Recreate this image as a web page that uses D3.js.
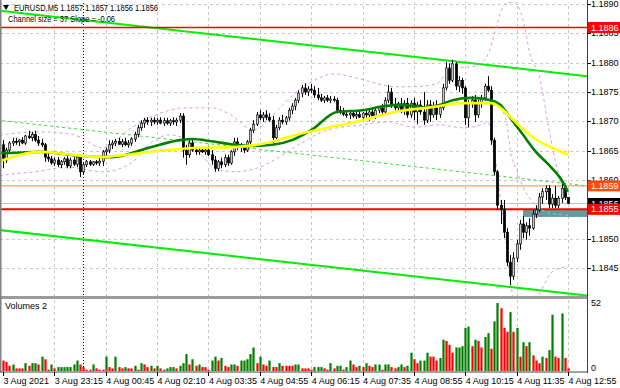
<!DOCTYPE html>
<html>
<head>
<meta charset="utf-8">
<script src="https://cdn.jsdelivr.net/npm/d3@7"></script>
<style>
body { margin: 0; background: #fff; }
svg { display: block; font-family: "Liberation Sans", Arial, sans-serif; }
</style>
</head>
<body>
<svg id="chart" width="620" height="388"></svg>
<script>
// EURUSD M5, one value per bar (177 bars)
const opens = [
  1.18660,1.18634,1.18651,1.18663,1.18666,1.18665,1.18668,1.18663,1.18675,1.18672,
  1.18678,1.18668,1.18663,1.18660,1.18639,1.18636,1.18629,1.18634,1.18626,1.18631,
  1.18636,1.18624,1.18634,1.18627,1.18639,1.18614,1.18626,1.18631,1.18627,1.18631,
  1.18629,1.18632,1.18648,1.18651,1.18660,1.18663,1.18666,1.18661,1.18665,1.18660,
  1.18663,1.18670,1.18678,1.18689,1.18697,1.18702,1.18699,1.18702,1.18699,1.18702,
  1.18697,1.18701,1.18697,1.18701,1.18699,1.18702,1.18709,1.18651,1.18643,1.18663,
  1.18651,1.18648,1.18651,1.18648,1.18651,1.18643,1.18634,1.18620,1.18631,1.18626,
  1.18638,1.18629,1.18648,1.18665,1.18658,1.18655,1.18651,1.18665,1.18685,1.18695,
  1.18711,1.18706,1.18711,1.18707,1.18702,1.18672,1.18689,1.18702,1.18699,1.18706,
  1.18719,1.18726,1.18736,1.18748,1.18757,1.18750,1.18755,1.18753,1.18745,1.18740,
  1.18736,1.18740,1.18736,1.18738,1.18736,1.18719,1.18716,1.18712,1.18711,1.18714,
  1.18709,1.18712,1.18707,1.18714,1.18711,1.18716,1.18709,1.18719,1.18723,1.18716,
  1.18736,1.18750,1.18728,1.18723,1.18730,1.18719,1.18731,1.18711,1.18731,1.18716,
  1.18728,1.18716,1.18702,1.18728,1.18711,1.18723,1.18712,1.18723,1.18757,1.18791,
  1.18770,1.18798,1.18760,1.18770,1.18757,1.18706,1.18730,1.18736,1.18711,1.18730,
  1.18740,1.18760,1.18753,1.18668,1.18614,1.18557,1.18549,1.18511,1.18460,1.18436,
  1.18467,1.18491,1.18525,1.18511,1.18522,1.18518,1.18542,1.18549,1.18571,1.18580,
  1.18586,1.18559,1.18569,1.18557,1.18569,1.18586,1.18570
];
const highs = [
  1.18668,1.18655,1.18666,1.18672,1.18672,1.18670,1.18673,1.18677,1.18684,1.18682,
  1.18684,1.18675,1.18670,1.18663,1.18648,1.18641,1.18638,1.18639,1.18634,1.18639,
  1.18641,1.18638,1.18639,1.18643,1.18643,1.18629,1.18634,1.18634,1.18632,1.18634,
  1.18638,1.18651,1.18655,1.18668,1.18668,1.18670,1.18672,1.18670,1.18672,1.18668,
  1.18673,1.18682,1.18694,1.18702,1.18706,1.18707,1.18706,1.18707,1.18706,1.18707,
  1.18706,1.18706,1.18704,1.18707,1.18706,1.18714,1.18714,1.18660,1.18668,1.18668,
  1.18656,1.18655,1.18656,1.18655,1.18658,1.18651,1.18641,1.18634,1.18638,1.18643,
  1.18643,1.18651,1.18672,1.18672,1.18663,1.18660,1.18668,1.18689,1.18702,1.18716,
  1.18719,1.18716,1.18719,1.18714,1.18709,1.18694,1.18707,1.18711,1.18709,1.18723,
  1.18731,1.18740,1.18753,1.18762,1.18765,1.18760,1.18764,1.18760,1.18757,1.18747,
  1.18743,1.18745,1.18743,1.18743,1.18740,1.18726,1.18723,1.18719,1.18718,1.18719,
  1.18716,1.18718,1.18716,1.18721,1.18721,1.18723,1.18723,1.18726,1.18730,1.18741,
  1.18762,1.18757,1.18740,1.18733,1.18740,1.18736,1.18740,1.18736,1.18740,1.18733,
  1.18736,1.18750,1.18736,1.18736,1.18733,1.18736,1.18728,1.18764,1.18801,1.18799,
  1.18805,1.18801,1.18777,1.18774,1.18760,1.18736,1.18743,1.18745,1.18736,1.18745,
  1.18764,1.18777,1.18760,1.18672,1.18617,1.18566,1.18566,1.18518,1.18472,1.18477,
  1.18498,1.18532,1.18539,1.18528,1.18535,1.18549,1.18557,1.18578,1.18586,1.18591,
  1.18591,1.18576,1.18590,1.18573,1.18595,1.18590,1.18570
];
const lows = [
  1.18620,1.18629,1.18646,1.18658,1.18660,1.18658,1.18661,1.18660,1.18670,1.18666,
  1.18665,1.18658,1.18656,1.18631,1.18631,1.18626,1.18624,1.18622,1.18620,1.18626,
  1.18620,1.18620,1.18624,1.18622,1.18605,1.18610,1.18622,1.18624,1.18624,1.18626,
  1.18624,1.18624,1.18638,1.18646,1.18653,1.18658,1.18660,1.18656,1.18658,1.18655,
  1.18658,1.18665,1.18673,1.18684,1.18689,1.18694,1.18692,1.18695,1.18694,1.18695,
  1.18692,1.18694,1.18692,1.18694,1.18692,1.18697,1.18638,1.18626,1.18638,1.18648,
  1.18643,1.18643,1.18646,1.18643,1.18641,1.18626,1.18614,1.18615,1.18620,1.18622,
  1.18624,1.18626,1.18641,1.18651,1.18648,1.18646,1.18648,1.18660,1.18680,1.18692,
  1.18702,1.18699,1.18702,1.18699,1.18663,1.18668,1.18685,1.18695,1.18694,1.18701,
  1.18712,1.18719,1.18731,1.18741,1.18745,1.18743,1.18748,1.18740,1.18736,1.18733,
  1.18731,1.18733,1.18731,1.18733,1.18716,1.18712,1.18709,1.18706,1.18704,1.18706,
  1.18704,1.18706,1.18702,1.18706,1.18701,1.18706,1.18704,1.18714,1.18712,1.18711,
  1.18731,1.18723,1.18719,1.18716,1.18714,1.18711,1.18706,1.18706,1.18702,1.18695,
  1.18711,1.18694,1.18697,1.18699,1.18706,1.18702,1.18706,1.18719,1.18753,1.18764,
  1.18767,1.18753,1.18750,1.18747,1.18694,1.18690,1.18723,1.18699,1.18706,1.18723,
  1.18736,1.18750,1.18660,1.18608,1.18549,1.18525,1.18501,1.18453,1.18421,1.18430,
  1.18460,1.18481,1.18501,1.18498,1.18505,1.18515,1.18535,1.18545,1.18559,1.18566,
  1.18552,1.18552,1.18552,1.18552,1.18561,1.18566,1.18560
];
const closes = [
  1.18634,1.18651,1.18663,1.18666,1.18665,1.18668,1.18663,1.18675,1.18672,1.18678,
  1.18668,1.18663,1.18660,1.18639,1.18636,1.18629,1.18634,1.18626,1.18631,1.18636,
  1.18624,1.18634,1.18627,1.18639,1.18614,1.18626,1.18631,1.18627,1.18631,1.18629,
  1.18632,1.18648,1.18651,1.18660,1.18663,1.18666,1.18661,1.18665,1.18660,1.18663,
  1.18670,1.18678,1.18689,1.18697,1.18702,1.18699,1.18702,1.18699,1.18702,1.18697,
  1.18701,1.18697,1.18701,1.18699,1.18702,1.18709,1.18651,1.18643,1.18663,1.18651,
  1.18648,1.18651,1.18648,1.18651,1.18643,1.18634,1.18620,1.18631,1.18626,1.18638,
  1.18629,1.18648,1.18665,1.18658,1.18655,1.18651,1.18665,1.18685,1.18695,1.18711,
  1.18706,1.18711,1.18707,1.18702,1.18672,1.18689,1.18702,1.18699,1.18706,1.18719,
  1.18726,1.18736,1.18748,1.18757,1.18750,1.18755,1.18753,1.18745,1.18740,1.18736,
  1.18740,1.18736,1.18738,1.18736,1.18719,1.18716,1.18712,1.18711,1.18714,1.18709,
  1.18712,1.18707,1.18714,1.18711,1.18716,1.18709,1.18719,1.18723,1.18716,1.18736,
  1.18750,1.18728,1.18723,1.18730,1.18719,1.18731,1.18711,1.18731,1.18716,1.18728,
  1.18716,1.18702,1.18728,1.18711,1.18723,1.18712,1.18723,1.18757,1.18791,1.18770,
  1.18798,1.18760,1.18770,1.18757,1.18706,1.18730,1.18736,1.18711,1.18730,1.18740,
  1.18760,1.18753,1.18668,1.18614,1.18557,1.18549,1.18511,1.18460,1.18436,1.18467,
  1.18491,1.18525,1.18511,1.18522,1.18518,1.18542,1.18549,1.18571,1.18580,1.18586,
  1.18559,1.18569,1.18557,1.18569,1.18586,1.18570,1.18560
];
const volumes = [
  8,7,4,5,2,2,2,6,4,6,
  6,5,11,9,1,5,2,3,3,3,
  3,3,5,8,5,3,1,1,5,2,
  1,1,11,3,2,11,3,2,3,2,
  2,4,1,6,5,3,4,2,4,2,
  1,2,3,3,2,4,6,13,5,9,
  4,5,3,3,1,8,11,8,10,4,
  3,5,5,4,8,8,9,13,18,6,
  11,5,4,8,3,3,6,4,4,4,
  4,5,5,2,2,2,1,3,3,3,
  2,1,6,2,4,4,1,3,8,5,
  3,4,3,6,4,3,5,5,1,5,
  5,3,2,3,5,3,4,14,9,6,
  8,8,14,11,11,8,10,24,23,20,
  14,18,18,19,33,34,19,24,23,18,
  26,29,17,38,52,48,33,30,45,30,
  33,11,22,19,22,12,8,6,11,10,
  16,43,11,10,44,10,2
];

// indicators: [bar, price]
const maGreen = [
  [-1,1.18646],[0,1.18646],[12,1.18648],[24,1.18641],[34,1.18639],[46,1.18656],[55,1.18668],
  [59,1.18670],[65,1.18666],[71,1.18661],[77,1.18658],[84,1.18660],[90,1.18668],[96,1.18685],
  [104,1.18716],[112,1.18719],[119,1.18726],[124,1.18728],[131,1.18724],[136,1.18728],
  [140,1.18736],[146,1.18740],[152,1.18736],[155,1.18728],[158,1.18706],[162,1.18677],
  [166,1.18648],[170,1.18626],[174,1.18600],[176,1.18580]
];
const maYellow = [
  [-1,1.18633],[0,1.18634],[6,1.18644],[12,1.18648],[20,1.18644],[30,1.18639],[40,1.18644],
  [51,1.18651],[61,1.18655],[72,1.18656],[82,1.18663],[92,1.18678],[101,1.18689],[112,1.18702],
  [119,1.18712],[124,1.18718],[132,1.18723],[136,1.18726],[142,1.18731],[152,1.18731],
  [155,1.18723],[159,1.18702],[163,1.18682],[167,1.18666],[171,1.18655],[176,1.18643]
];
const bandUpper = [
  [-1,1.18676],[0,1.18677],[12,1.18682],[22,1.18677],[31,1.18655],[40,1.18689],[49,1.18714],
  [57,1.18723],[65,1.18723],[71,1.18711],[78,1.18685],[84,1.18711],[91,1.18748],[97,1.18770],
  [103,1.18781],[110,1.18774],[116,1.18765],[122,1.18759],[128,1.18759],[135,1.18764],
  [140,1.18791],[146,1.18793],[149,1.18799],[151,1.18813],[153,1.18847],[155,1.18886],
  [157,1.18902],[159,1.18903],[161,1.18890],[163,1.18847],[164,1.18818],[167,1.18779],
  [170,1.18689],[172,1.18634],[174,1.18591],[176,1.18569]
];
const bandMiddle = [
  [146,1.18738],[152,1.18733],[155,1.18723],[157,1.18694],[158,1.18651],[160,1.18617],
  [162,1.18588],[165,1.18563],[167,1.18552],[170,1.18544],[176,1.18540]
];
const bandLower = [
  [-1,1.18607],[0,1.18608],[10,1.18614],[20,1.18622],[31,1.18614],[40,1.18629],[46,1.18663],
  [52,1.18677],[57,1.18668],[61,1.18648],[66,1.18620],[72,1.18614],[79,1.18620],[86,1.18639],
  [92,1.18660],[101,1.18685],[112,1.18694],[120,1.18699],[128,1.18690],[136,1.18694],
  [143,1.18689],[149,1.18694],[151,1.18699],[153,1.18651],[155,1.18566],[157,1.18481],
  [158,1.18430],[160,1.18378],[163,1.18361],[166,1.18395],[168,1.18416],[171,1.18443],
  [176,1.18453]
];

// regression channel: middle price at bar 0, slope per bar, half width
const channelMid0 = 1.18701;
const channelSlope = -0.0000061;
const channelHalf = 0.00187;

const priceTicks = [1.1890,1.1885,1.1880,1.1875,1.1870,1.1865,1.1860,1.1855,1.1850,1.1845];
const timeTickBars = [0,16,32,48,64,80,96,112,128,144,160,176];
const timeLabels = ["3 Aug 2021","3 Aug 23:15","4 Aug 00:45","4 Aug 02:10","4 Aug 03:35","4 Aug 04:55",
  "4 Aug 06:15","4 Aug 07:35","4 Aug 08:55","4 Aug 10:15","4 Aug 11:35","4 Aug 12:55"];
const daySeparatorBar = 25;

const levelPrices = [1.1886, 1.1859, 1.1855];
const levelColors = ["#ff0000", "#f4874f", "#ff0000"];
const levelWidths = [1.5, 1, 2];
const boxColors = ["#ff0000", "#ff4a10", "#ff0000"];
const zoneBar = 162, zoneTop = 1.1855, zoneBottom = 1.18537;

// ---- layout ----
const svg = d3.select("#chart");
const axisX = 587, mainTop = 2, mainBottom = 296, volTop = 300, volBottom = 371;

const x = d3.scaleLinear().domain([0, 176]).range([3, 568]);
const y = d3.scaleLinear().domain([1.1845, 1.1890]).range([268, 4]);
const yv = d3.scaleLinear().domain([0, 52]).range([volBottom, 303]);

const defs = svg.append("defs");
defs.append("clipPath").attr("id", "clipMain")
  .append("rect").attr("x", 0).attr("y", mainTop).attr("width", axisX).attr("height", mainBottom - mainTop);
defs.append("clipPath").attr("id", "clipVol")
  .append("rect").attr("x", 0).attr("y", volTop).attr("width", axisX).attr("height", volBottom - volTop);

const main = svg.append("g").attr("clip-path", "url(#clipMain)");
const vol = svg.append("g").attr("clip-path", "url(#clipVol)");

// grid
main.selectAll(".hgrid").data(priceTicks).join("line")
  .attr("x1", 0).attr("x2", axisX)
  .attr("y1", d => Math.round(y(d)) + 0.5).attr("y2", d => Math.round(y(d)) + 0.5)
  .attr("stroke", "#c8c8c8").attr("stroke-dasharray", "3,3");
[main, vol].forEach(g => {
  g.selectAll(".vgrid").data(timeTickBars.slice(1)).join("line")
    .attr("x1", d => Math.round(x(d)) + 0.5).attr("x2", d => Math.round(x(d)) + 0.5)
    .attr("y1", 0).attr("y2", 388)
    .attr("stroke", "#c8c8c8").attr("stroke-dasharray", "3,3");
  g.append("line")
    .attr("x1", Math.round(x(daySeparatorBar)) + 0.5).attr("x2", Math.round(x(daySeparatorBar)) + 0.5)
    .attr("y1", 0).attr("y2", 388)
    .attr("stroke", "#000").attr("stroke-dasharray", "1,2");
});

// support zone
main.append("rect")
  .attr("x", x(zoneBar)).attr("y", y(zoneTop))
  .attr("width", axisX - x(zoneBar)).attr("height", y(zoneBottom) - y(zoneTop))
  .attr("fill", "#5f9ea0");

// channel
const chan = (b, k) => channelMid0 + channelSlope * b + k * channelHalf;
[[1, "#00ee00", 2, null], [-1, "#00ee00", 2, null], [0, "#33dd33", 1, "3,3"]].forEach(([k, c, w, dash]) => {
  main.append("line")
    .attr("x1", x(-2)).attr("y1", y(chan(-2, k)))
    .attr("x2", x(185)).attr("y2", y(chan(185, k)))
    .attr("stroke", c).attr("stroke-width", w).attr("stroke-dasharray", dash);
});

// horizontal levels and bid line
const lastClose = closes[closes.length - 1];
main.append("line").attr("x1", 0).attr("x2", axisX)
  .attr("y1", y(lastClose)).attr("y2", y(lastClose)).attr("stroke", "#c0c0c0");
levelPrices.forEach((p, i) => {
  main.append("line").attr("x1", 0).attr("x2", axisX)
    .attr("y1", y(p)).attr("y2", y(p))
    .attr("stroke", levelColors[i]).attr("stroke-width", levelWidths[i]);
});

// bollinger bands
const curve = d3.line().x(d => x(d[0])).y(d => y(d[1])).curve(d3.curveMonotoneX);
[bandUpper, bandMiddle, bandLower].forEach(b => {
  main.append("path").attr("d", curve(b)).attr("fill", "none")
    .attr("stroke", "#d49ce6").attr("stroke-width", 1).attr("stroke-dasharray", "3,3");
});

// candles
const bars = d3.range(closes.length);
main.selectAll(".wick").data(bars).join("line")
  .attr("x1", i => Math.round(x(i)) + 0.5).attr("x2", i => Math.round(x(i)) + 0.5)
  .attr("y1", i => y(highs[i])).attr("y2", i => y(lows[i]))
  .attr("stroke", "#000").attr("stroke-width", 1);
main.selectAll(".body").data(bars).join("rect")
  .attr("x", i => Math.round(x(i)) - 0.7)
  .attr("width", 2.4)
  .attr("y", i => y(Math.max(opens[i], closes[i])))
  .attr("height", i => Math.max(1, Math.abs(y(opens[i]) - y(closes[i]))))
  .attr("fill", i => closes[i] >= opens[i] ? "#c8c8c8" : "#000")
  .attr("stroke", "#000").attr("stroke-width", 0.6);

// moving averages
main.append("path").attr("d", curve(maGreen)).attr("fill", "none")
  .attr("stroke", "#008000").attr("stroke-width", 2.6);
main.append("path").attr("d", curve(maYellow)).attr("fill", "none")
  .attr("stroke", "#ffff00").attr("stroke-width", 2.6);

// volumes
let up = false;
const volUp = volumes.map((v, i) => {
  if (i > 0 && v !== volumes[i - 1]) up = v > volumes[i - 1];
  return up;
});
vol.selectAll(".vbar").data(bars).join("rect")
  .attr("x", i => Math.round(x(i)) - 0.6)
  .attr("width", 2.2)
  .attr("y", i => yv(volumes[i]))
  .attr("height", i => yv(0) - yv(volumes[i]))
  .attr("fill", i => volUp[i] ? "#008000" : "#ff0000");

// frames
svg.append("rect").attr("x", 0).attr("y", mainBottom).attr("width", axisX).attr("height", 3).attr("fill", "#9a9a9a");
svg.append("line").attr("x1", 0.5).attr("x2", 0.5).attr("y1", 0).attr("y2", 372).attr("stroke", "#808080").attr("stroke-width", 2);
svg.append("line").attr("x1", 0).attr("x2", axisX).attr("y1", 372).attr("y2", 372).attr("stroke", "#404040");
svg.append("line").attr("x1", axisX + 0.5).attr("x2", axisX + 0.5).attr("y1", 0).attr("y2", 373).attr("stroke", "#404040");

// price axis
const axisG = svg.append("g").attr("font-size", 9).attr("fill", "#000");
priceTicks.forEach(p => {
  axisG.append("line").attr("x1", axisX).attr("x2", axisX + 4)
    .attr("y1", Math.round(y(p)) + 0.5).attr("y2", Math.round(y(p)) + 0.5).attr("stroke", "#000");
  axisG.append("text").attr("x", 591).attr("y", y(p)).attr("dy", "0.35em").text(p.toFixed(4));
});

// time axis
timeTickBars.forEach((b, i) => {
  axisG.append("line").attr("x1", Math.round(x(b)) + 0.5).attr("x2", Math.round(x(b)) + 0.5)
    .attr("y1", 372).attr("y2", 376).attr("stroke", "#000");
  axisG.append("text").attr("x", x(b) + 0.5).attr("y", 384).text(timeLabels[i]);
});

// volume axis
axisG.append("text").attr("x", 591).attr("y", yv(52)).attr("dy", "0.35em").text("52");
axisG.append("text").attr("x", 591).attr("y", yv(0) - 3).attr("dy", "0.35em").text("0");
svg.append("text").attr("x", 5).attr("y", 309).attr("font-size", 9).text("Volumes 2");

// price boxes on the axis
function priceBox(p, color) {
  const g = svg.append("g");
  g.append("rect").attr("x", axisX + 1).attr("y", y(p) - 5.5).attr("width", 32).attr("height", 11).attr("fill", color);
  g.append("text").attr("x", 591).attr("y", y(p)).attr("dy", "0.35em")
    .attr("font-size", 9).attr("fill", "#fff").text(p.toFixed(4));
}
priceBox(levelPrices[0], boxColors[0]);
priceBox(levelPrices[1], boxColors[1]);
priceBox(lastClose, "#000");
priceBox(levelPrices[2], boxColors[2]);

// header
const n = closes.length - 1;
svg.append("path").attr("d", "M3,5 L9,5 L6,10 Z").attr("fill", "#000");
svg.append("text").attr("x", 14).attr("y", 11).attr("font-size", 8.5)
  .attr("textLength", 144).attr("lengthAdjust", "spacingAndGlyphs")
  .text(`EURUSD,M5  ${opens[n].toFixed(4)} ${highs[n].toFixed(4)} ${lows[n].toFixed(4)} ${closes[n].toFixed(4)}`);
svg.append("text").attr("x", 8).attr("y", 22).attr("font-size", 8.5)
  .attr("textLength", 107).attr("lengthAdjust", "spacingAndGlyphs")
  .text(`Channel size = ${Math.round(channelHalf * 2 * 10000)} Slope = ${(channelSlope * 10000).toFixed(2)}`);
</script>
</body>
</html>
